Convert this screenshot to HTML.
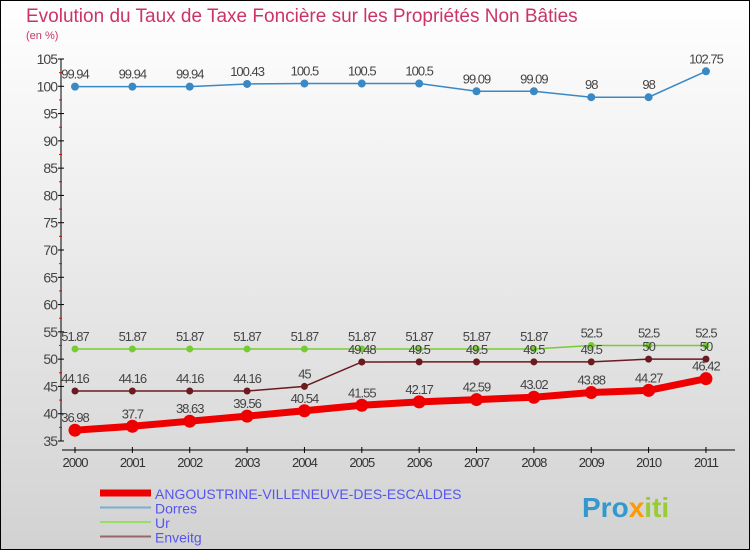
<!DOCTYPE html>
<html><head><meta charset="utf-8"><style>
body{margin:0}
svg{display:block;font-family:"Liberation Sans",sans-serif}
</style></head><body>
<svg id="c" width="750" height="550">
<defs><linearGradient id="bg" x1="0" y1="0" x2="0" y2="1"><stop offset="0" stop-color="#ffffff"/><stop offset="1" stop-color="#d2d2d2"/></linearGradient></defs>
<rect x="0.5" y="0.5" width="749" height="549" fill="url(#bg)" stroke="#000"/>
<text x="26" y="22" font-size="19" fill="#cc3366">Evolution du Taux de Taxe Foncière sur les Propriétés Non Bâties</text>
<text x="26" y="39" font-size="11" fill="#cc3366">(en %)</text>
<g id="axes"></g><g id="series"></g><g id="legend"></g>
<text x="582" y="517" font-size="28" font-weight="bold" fill="#3399cc">Pro<tspan fill="#ff9900">x</tspan><tspan fill="#99cc33">iti</tspan></text>
</svg>
<script>
const years=["2000","2001","2002","2003","2004","2005","2006","2007","2008","2009","2010","2011"];
const angoustrine=[36.98,37.7,38.63,39.56,40.54,41.55,42.17,42.59,43.02,43.88,44.27,46.42];
const dorres=[99.94,99.94,99.94,100.43,100.5,100.5,100.5,99.09,99.09,98,98,102.75];
const ur=[51.87,51.87,51.87,51.87,51.87,51.87,51.87,51.87,51.87,52.5,52.5,52.5];
const enveitg=[44.16,44.16,44.16,44.16,45,49.48,49.5,49.5,49.5,49.5,50,50];
const yTicks=[35,40,45,50,55,60,65,70,75,80,85,90,95,100,105];
const NS="http://www.w3.org/2000/svg";
const X=i=>75+i*57.36, Y=v=>441-(v-35)*(382/70);
function mk(t,a,p){const e=document.createElementNS(NS,t);for(const k in a)e.setAttribute(k,a[k]);p.appendChild(e);return e;}
const ax=document.getElementById('axes');
let l=mk('line',{x1:61,y1:Y(105),x2:61,y2:Y(35),stroke:'#000'},ax);


l=mk('line',{x1:62,y1:450,x2:735,y2:450,stroke:'#000'},ax);


yTicks.forEach((v,i)=>{
 mk('line',{x1:58,y1:Y(v),x2:64,y2:Y(v),stroke:'#000'},ax);
 if(i<yTicks.length-1)mk('line',{x1:59,y1:Y(v+2.5),x2:62,y2:Y(v+2.5),stroke:'#e00'},ax);
 const t=mk('text',{x:57,y:Y(v)+5,'text-anchor':'end','font-size':14,fill:'#444','letter-spacing':'-1'},ax);
 t.textContent=v;
 
 
});
years.forEach((y,i)=>{
 mk('line',{x1:X(i),y1:447,x2:X(i),y2:453,stroke:'#000'},ax);
 const t=mk('text',{x:X(i),y:467,'text-anchor':'middle','font-size':13,fill:'#333','letter-spacing':'-1'},ax);
 t.textContent=y;
 
 
});
const sg=document.getElementById('series');
function series(vals,color,w,r,name){
 const g=mk('g',{},sg);
 
 
 const p=mk('polyline',{points:vals.map((v,i)=>X(i)+','+Y(v)).join(' '),fill:'none',stroke:color,'stroke-width':w},g);
 
 
 vals.forEach((v,i)=>{
  const c=mk('circle',{cx:X(i),cy:Y(v),r:r,fill:color},g);
  
  
  const t=mk('text',{x:X(i),y:Y(v)-8,'text-anchor':'middle','font-size':13,fill:'#444','letter-spacing':'-1'},g);
  t.textContent=v;
  
  
 });
}
series(dorres,'#3a88c4',1.5,4,'dorres');
series(ur,'#77cc33',1.5,3.5,'ur');
series(enveitg,'#6b1a1f',1.5,3.5,'enveitg');
series(angoustrine,'#ee0000',7,6.5,'angoustrine');
const lg=document.getElementById('legend');
const leg=[["ANGOUSTRINE-VILLENEUVE-DES-ESCALDES",'#ee0000',7],["Dorres",'#7aaed0',2],["Ur",'#99dd66',2],["Enveitg",'#996666',2]];
leg.forEach((e,i)=>{
 const y=493+i*14.5;
 const g=mk('g',{},lg);
 
 
 mk('line',{x1:100,y1:y,x2:151,y2:y,stroke:e[1],'stroke-width':e[2]},g);
 const t=mk('text',{x:155,y:y+6,'font-size':14,fill:'#5555ee'},g);
 t.textContent=e[0];
 
 
});
</script>
</body></html>
